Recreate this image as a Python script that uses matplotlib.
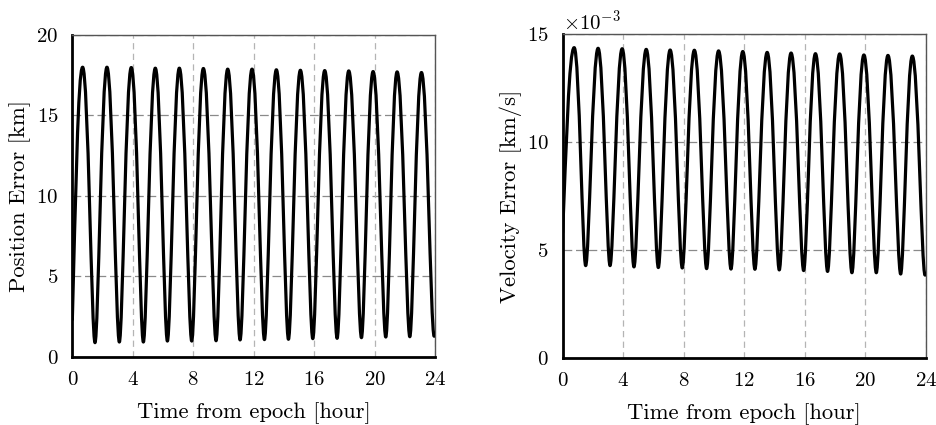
import matplotlib
matplotlib.use("Agg")
import matplotlib.pyplot as plt
from matplotlib.path import Path
from matplotlib.patches import PathPatch
from matplotlib.ticker import ScalarFormatter

plt.rcParams["font.family"] = "serif"
plt.rcParams["font.serif"] = ["cmr10"]
plt.rcParams["mathtext.fontset"] = "cm"
plt.rcParams["axes.unicode_minus"] = False
plt.rcParams["axes.formatter.use_mathtext"] = True

# ── data (extrema of the oscillation) ─────────────────────────────────────

hours_ticks = [0, 4, 8, 12, 16, 20, 24]

pos_start = (0.0, 2.3)
pos_end = (24.0, 1.3)
pos_peak_t = [0.68, 2.29, 3.90, 5.49, 7.08, 8.67, 10.28, 11.89, 13.50,
              15.09, 16.70, 18.29, 19.90, 21.49, 23.10]
pos_peak_v = [17.97, 17.97, 17.95, 17.91, 17.91, 17.89, 17.85, 17.85,
              17.81, 17.78, 17.76, 17.74, 17.70, 17.68, 17.64]
pos_trough_t = [1.50, 3.11, 4.70, 6.29, 7.90, 9.51, 11.10, 12.71, 14.30,
                15.91, 17.52, 19.13, 20.74, 22.33, 23.94]
pos_trough_v = [0.87, 0.91, 0.91, 0.97, 0.97, 0.99, 1.04, 1.06, 1.08,
                1.12, 1.14, 1.18, 1.22, 1.24, 1.27]

# velocity in units of 1e-3 km/s
vel_start = (0.0, 5.8)
vel_end = (24.0, 3.85)
vel_peak_t = [0.76, 2.34, 3.93, 5.52, 7.10, 8.70, 10.30, 11.90, 13.51,
              15.09, 16.70, 18.30, 19.90, 21.49, 23.10]
vel_peak_v = [14.38, 14.35, 14.33, 14.30, 14.27, 14.26, 14.23, 14.20,
              14.16, 14.13, 14.10, 14.09, 14.04, 14.02, 13.99]
vel_trough_t = [1.52, 3.13, 4.71, 6.32, 7.90, 9.51, 11.12, 12.70, 14.31,
                15.92, 17.50, 19.11, 20.72, 22.33, 23.94]
vel_trough_v = [4.27, 4.27, 4.21, 4.18, 4.16, 4.13, 4.11, 4.10, 4.07,
                4.04, 4.00, 3.94, 3.94, 3.88, 3.83]


def wave_path(start, end, peak_t, peak_v, trough_t, trough_v, scale=1.0):
    """Bezier path through extrema with flat tangents (broad peaks, sharp troughs)."""
    knots = [(t, v, "peak") for t, v in zip(peak_t, peak_v)]
    knots += [(t, v, "trough") for t, v in zip(trough_t, trough_v)]
    knots.sort()
    knots = [(start[0], start[1], "start")] + knots + [(end[0], end[1], "end")]
    handle = {"peak": 0.44, "trough": 0.27}

    verts = [(knots[0][0], knots[0][1] * scale)]
    codes = [Path.MOVETO]
    for (ta, ya, ka), (tb, yb, kb) in zip(knots[:-1], knots[1:]):
        dt = tb - ta
        if ka == "start":
            c1 = (ta + 0.3 * dt, ya + 0.45 * (yb - ya))
        else:
            c1 = (ta + handle[ka] * dt, ya)
        if kb == "end":
            c2 = (tb - 0.3 * dt, yb - 0.2 * (yb - ya))
        else:
            c2 = (tb - handle[kb] * dt, yb)
        verts += [(c1[0], c1[1] * scale), (c2[0], c2[1] * scale),
                  (tb, yb * scale)]
        codes += [Path.CURVE4] * 3
    return Path(verts, codes)


def style_axes(ax):
    ax.set_xlim(0, 24)
    ax.set_xticks(hours_ticks)
    ax.grid(False)
    for y in ax.get_yticks()[1:]:
        ax.axhline(y, color="#8a8a8a", lw=0.9, dashes=(7, 3), zorder=1)
    for x in hours_ticks[1:]:
        ax.axvline(x, color="#b4b4b4", lw=0.9, dashes=(5, 3.5), zorder=1)
    for side in ("left", "bottom"):
        ax.spines[side].set_linewidth(2.0)
        ax.spines[side].set_color("black")
    for side in ("top", "right"):
        ax.spines[side].set_linewidth(1.0)
        ax.spines[side].set_color("#555555")
    ax.tick_params(length=0, labelsize=15, pad=10)
    ax.set_xlabel("Time from epoch [hour]", fontsize=16.3)
    ax.xaxis.label.set_va("center")
    ax.xaxis.set_label_coords(0.5, -0.175)


fig = plt.figure(figsize=(9.37, 4.25), dpi=100)
ax1 = fig.add_axes([0.0772, 0.1607, 0.3871, 0.7581])
ax2 = fig.add_axes([0.6005, 0.1584, 0.3877, 0.7609])

# ── position error ────────────────────────────────────────────────────────
ax1.set_ylim(0, 20)
ax1.set_yticks([0, 5, 10, 15, 20])
ax1.add_patch(PathPatch(
    wave_path(pos_start, pos_end, pos_peak_t, pos_peak_v,
              pos_trough_t, pos_trough_v),
    fill=False, edgecolor="black", lw=2.3, zorder=3, capstyle="round",
    joinstyle="round",
))
style_axes(ax1)
ax1.set_ylabel("Position Error [km]", fontsize=16.3)
ax1.yaxis.label.set_va("center")
ax1.yaxis.set_label_coords(-0.144, 0.5)

# ── velocity error ────────────────────────────────────────────────────────
ax2.set_ylim(0, 0.015)
ax2.set_yticks([0, 0.005, 0.010, 0.015])
fmt = ScalarFormatter(useMathText=True)
fmt.set_powerlimits((-3, -3))
ax2.yaxis.set_major_formatter(fmt)
ax2.add_patch(PathPatch(
    wave_path(vel_start, vel_end, vel_peak_t, vel_peak_v,
              vel_trough_t, vel_trough_v, scale=1e-3),
    fill=False, edgecolor="black", lw=2.3, zorder=3, capstyle="round",
    joinstyle="round",
))
style_axes(ax2)
ax2.yaxis.get_offset_text().set_fontsize(15)
ax2.set_ylabel("Velocity Error [km/s]", fontsize=16.3)
ax2.yaxis.label.set_va("center")
ax2.yaxis.set_label_coords(-0.142, 0.5)

fig.savefig("out.png", dpi=100)
